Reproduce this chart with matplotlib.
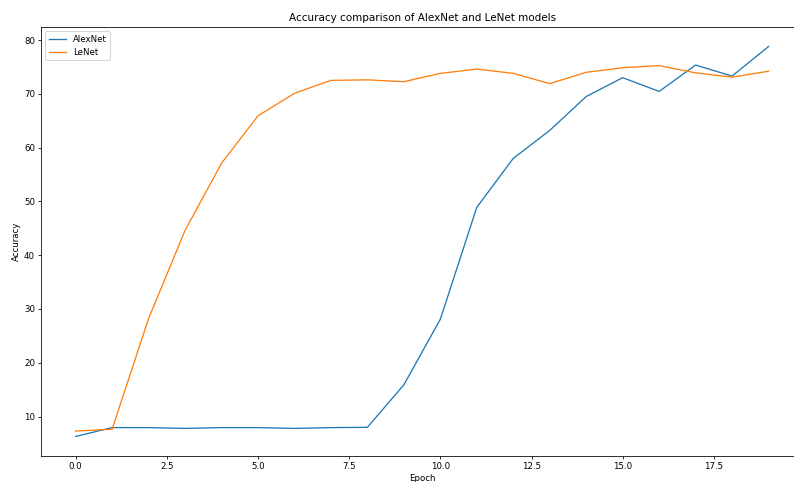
import numpy as np
import matplotlib
matplotlib.use('Agg')
from matplotlib import pyplot as plt

# accuracy per epoch
epochs = list(range(20))
alexnet = [6.3, 7.95, 7.95, 7.8, 7.95, 7.95, 7.8, 7.95, 8.0, 15.9,
           28.1, 48.9, 58.0, 63.2, 69.5, 73.0, 70.45, 75.35, 73.3, 78.8]
lenet = [7.3, 7.65, 28.2, 44.6, 57.1, 65.9, 70.1, 72.5, 72.6, 72.25,
         73.8, 74.6, 73.8, 71.9, 74.0, 74.85, 75.25, 73.9, 73.1, 74.2]

plt.rcParams['font.size'] = 8.6
plt.rcParams['lines.linewidth'] = 1.3
# reference looks like a scaled-down figure, so shrink ticks too
for a in ('xtick', 'ytick'):
    plt.rcParams[a + '.major.size'] = 3
    plt.rcParams[a + '.major.pad'] = 3
plt.rcParams['axes.labelpad'] = 3

fig = plt.figure(figsize=(794/72, 482/72), dpi=72)
ax = fig.add_axes([0.0516, 0.054, 0.96, 0.89])

ax.plot(epochs, alexnet, label='AlexNet')
ax.plot(epochs, lenet, label='LeNet')

ax.set_title('Accuracy comparison of AlexNet and LeNet models')
ax.set_xlabel('Epoch')
ax.set_ylabel('Accuracy')
ax.legend(loc='upper left')

fig.savefig('out.png', dpi=72)
